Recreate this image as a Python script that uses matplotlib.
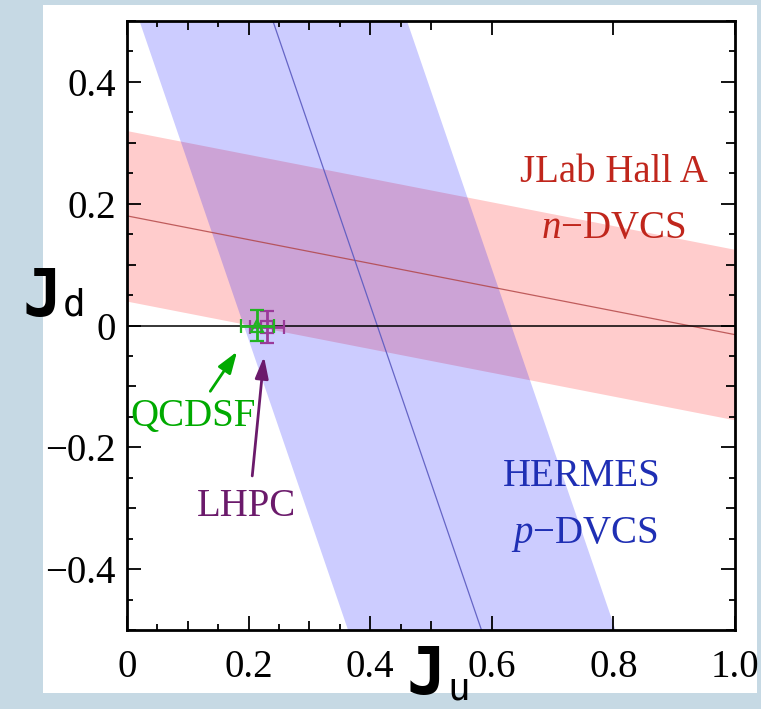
import matplotlib
matplotlib.use("Agg")
import matplotlib.pyplot as plt
from matplotlib.patches import Rectangle
from matplotlib.ticker import FixedLocator

plt.rcParams['mathtext.fontset'] = 'custom'
plt.rcParams['mathtext.rm'] = 'Liberation Serif'
plt.rcParams['mathtext.it'] = 'Liberation Serif:italic'

# ---- data ----
# HERMES p-DVCS band (J_u as function of J_d)
hermes_jd = [-0.5, 0.5]
hermes_center = [0.583, 0.240]
hermes_halfwidth = 0.22
# JLab Hall A n-DVCS band (J_d as function of J_u)
jlab_ju = [0.0, 1.0]
jlab_center = [0.18, -0.015]
jlab_halfwidth = 0.14
# lattice points
qcdsf = dict(ju=0.214, jd=0.0, ju_err=0.027, jd_err=0.026)
lhpc = dict(ju=0.230, jd=-0.002, ju_err=0.028, jd_err=0.026)
# annotation arrows (tail -> head)
qcdsf_arrow = [(0.137, -0.108), (0.181, -0.043)]
lhpc_arrow = [(0.206, -0.247), (0.2253, -0.051)]

xticks = [0, 0.2, 0.4, 0.6, 0.8, 1.0]
xticklabels = ["0", "0.2", "0.4", "0.6", "0.8", "1.0"]
yticks = [-0.4, -0.2, 0, 0.2, 0.4]
yticklabels = ["\u22120.4", "\u22120.2", "0", "0.2", "0.4"]

W, H = 761, 709
fig = plt.figure(figsize=(W / 100, H / 100), dpi=100)
fig.patch.set_facecolor('#c6d9e4')
fig.patches.append(Rectangle((43 / W, 1 - 693 / H), (757 - 43) / W, (693 - 5) / H,
                             transform=fig.transFigure, facecolor='white',
                             edgecolor='none', zorder=-10))

ax = fig.add_axes([127 / W, 1 - 630 / H, (735 - 127) / W, (630 - 21) / H])
ax.set_zorder(1)
ax.set_facecolor('white')
ax.set_xlim(0, 1.0)
ax.set_ylim(-0.5, 0.5)

# bands
jl_up = [c + jlab_halfwidth for c in jlab_center]
jl_lo = [c - jlab_halfwidth for c in jlab_center]
ax.fill_between(jlab_ju, jl_lo, jl_up, color=(1, 0, 0), alpha=0.2, lw=0, zorder=1)
ax.plot(jlab_ju, jlab_center, color='#b04040', lw=0.9, alpha=0.8, zorder=2)

he_lo = [c - hermes_halfwidth for c in hermes_center]
he_up = [c + hermes_halfwidth for c in hermes_center]
ax.fill_betweenx(hermes_jd, he_lo, he_up, color=(0, 0, 1), alpha=0.2, lw=0, zorder=1)
ax.plot(hermes_center, hermes_jd, color='#5a5ac0', lw=0.9, alpha=0.9, zorder=2)

ax.axhline(0, color='black', lw=1.1, zorder=3)

# lattice points
ax.errorbar(qcdsf['ju'], qcdsf['jd'], xerr=qcdsf['ju_err'], yerr=qcdsf['jd_err'],
            fmt='^', mfc='none', mec='#22b422', ecolor='#22b422', ms=9, mew=1.6,
            elinewidth=2, capsize=5, capthick=2, zorder=5)
ax.errorbar(lhpc['ju'], lhpc['jd'], xerr=lhpc['ju_err'], yerr=lhpc['jd_err'],
            fmt='s', mfc='none', mec='#9a3a9a', ecolor='#9a3a9a', ms=8, mew=1.6,
            elinewidth=2, capsize=5, capthick=2, zorder=4)

serif = 'Liberation Serif'
fs = 28
ax.text(0.80, 0.251, "JLab Hall A", color='#c0261c', fontsize=fs, family=serif,
        ha='center', va='center', zorder=6)
ax.text(0.80, 0.159, "$n$\u2212DVCS", color='#c0261c', fontsize=fs, family=serif,
        ha='center', va='center', zorder=6)
ax.text(0.748, -0.2475, "HERMES", color='#1f2fb4', fontsize=fs, family=serif,
        ha='center', va='center', zorder=6)
ax.text(0.752, -0.343, "$p$\u2212DVCS", color='#1f2fb4', fontsize=fs, family=serif,
        ha='center', va='center', zorder=6)

ax.text(0.108, -0.149, "QCDSF", color='#00aa00', fontsize=fs, family=serif,
        ha='center', va='center', zorder=6)
ax.text(0.197, -0.297, "LHPC", color='#6b1a6b', fontsize=fs, family=serif,
        ha='center', va='center', zorder=6)
ax.annotate("", xy=qcdsf_arrow[1], xytext=qcdsf_arrow[0],
            arrowprops=dict(arrowstyle='-|>,head_length=1.3,head_width=0.45',
                            mutation_scale=10, color='#00aa00', lw=2,
                            shrinkA=0, shrinkB=0), zorder=6)
ax.annotate("", xy=lhpc_arrow[1], xytext=lhpc_arrow[0],
            arrowprops=dict(arrowstyle='-|>,head_length=1.3,head_width=0.4',
                            mutation_scale=10, color='#6b1a6b', lw=2,
                            shrinkA=0, shrinkB=0), zorder=6)

# axes styling
for s in ax.spines.values():
    s.set_linewidth(2)
    s.set_zorder(7)
ax.xaxis.set_major_locator(FixedLocator(xticks))
ax.yaxis.set_major_locator(FixedLocator(yticks))
minor_vals = [round(-0.5 + 0.05 * i, 2) for i in range(21)]
ax.xaxis.set_minor_locator(FixedLocator([v for v in minor_vals if v >= 0]))
ax.yaxis.set_minor_locator(FixedLocator(minor_vals))
ax.set_xticklabels(xticklabels)
ax.set_yticklabels(yticklabels)
ax.tick_params(which='both', direction='in', top=True, right=True, width=1.3, zorder=7)
ax.tick_params(which='major', length=10)
ax.tick_params(which='minor', length=4)
ax.tick_params(axis='x', which='major', pad=14, labelsize=fs)
ax.tick_params(axis='y', which='major', pad=8, labelsize=fs)
for lab in ax.get_xticklabels() + ax.get_yticklabels():
    lab.set_family(serif)

# medium ticks at multiples of 0.1
for axis in (ax.xaxis, ax.yaxis):
    locs = axis.get_minorticklocs()
    for t, loc in zip(axis.get_minor_ticks(), locs):
        if abs(round(loc * 10) - loc * 10) < 1e-6:
            t.tick1line.set_markersize(6.5)
            t.tick2line.set_markersize(6.5)

# axis labels (placed as figure text)
fig.text(23 / W, 1 - 316 / H, "J", fontsize=47, family='DejaVu Sans Mono',
         weight='bold', ha='left', va='baseline', zorder=5)
fig.text(63 / W, 1 - 316 / H, "d", fontsize=27, family='DejaVu Sans Mono',
         ha='left', va='baseline', zorder=5)
fig.text(406 / W, 1 - 694 / H, "J", fontsize=47, family='DejaVu Sans Mono',
         weight='bold', ha='left', va='baseline', zorder=5)
fig.text(447 / W, 1 - 700 / H, "u", fontsize=27, family='DejaVu Sans Mono',
         ha='left', va='baseline', zorder=5)

fig.savefig("out.png", dpi=100, facecolor=fig.get_facecolor())
